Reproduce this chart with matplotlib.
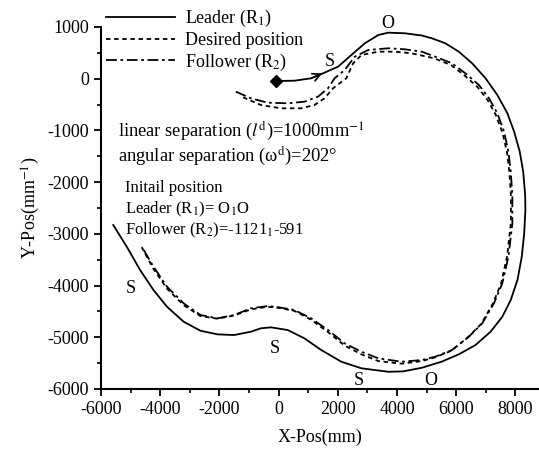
import matplotlib
matplotlib.use("Agg")
import matplotlib.pyplot as plt
from matplotlib.ticker import MultipleLocator

plt.rcParams['font.family'] = ['Liberation Serif', 'DejaVu Serif']
plt.rcParams['mathtext.fontset'] = 'stix'
plt.rcParams['axes.unicode_minus'] = False

# leader path (R1), starting at the diamond
leader_x = [-90, 534, 1100, 1500, 2010, 2460, 2915, 3370, 3710, 4270, 4840, 5180, 5634, 6090,
            6541, 6994, 7392, 7732, 7960, 8150, 8266, 8333, 8340, 8300, 8218, 8072, 7845, 7560,
            7164, 6654, 6090, 5520, 4840, 4200, 3710, 2800, 2122, 1442, 874, 309, -258, -600,
            -938, -1506, -2070, -2638, -3206, -3770, -4226, -4678, -5130, -5586]
leader_y = [-45, -39, 7, 104, 232, 458, 684, 845, 890, 878, 835, 781, 685, 522,
            298, 8, -315, -669, -1025, -1412, -1798, -2250, -2540, -2990, -3443, -3893, -4280, -4603,
            -4893, -5150, -5330, -5470, -5590, -5660, -5667, -5600, -5473, -5247, -5021, -4860, -4808, -4827,
            -4893, -4957, -4943, -4874, -4700, -4410, -4087, -3700, -3249, -2830]

# desired position (dotted)
desired_x = [-1200, -598, 82, 762, 1214, 1554, 1840, 2290, 2520, 2800, 3370, 3935, 4500, 5260,
             5830, 6270, 6720, 7060, 7340, 7570, 7720, 7800, 7850, 7850, 7720, 7520, 7240,
             6850, 6400, 5840, 5280, 4840, 4160, 3370, 2800, 2234, 1670, 1100, 534, 0, -371,
             -938, -1506, -2070, -2638, -3206, -3770, -4226, -4622]
desired_y = [-360, -509, -573, -573, -509, -379, -186, 8, 298, 458, 522, 522, 491, 394,
             262, 70, -160, -410, -700, -1050, -1430, -1810, -2250, -2797, -3440, -3960, -4350,
             -4740, -5000, -5260, -5390, -5460, -5510, -5460, -5330, -5160, -4900, -4660, -4490, -4430, -4410,
             -4460, -4580, -4640, -4590, -4380, -4060, -3680, -3260]

# follower path (R2), dash-dot
follower_x = [-1445, -938, -371, 309, 874, 1330, 1670, 1894, 2234, 2574, 3030, 3710, 4270, 4840,
              5294, 5860, 6310, 6770, 7110, 7392, 7620, 7766, 7845, 7900, 7900, 7766, 7560, 7277,
              6880, 6427, 5860, 5294, 4840, 4160, 3370, 2800, 2234, 1670, 1100, 534, 0, -371,
              -938, -1506, -2070, -2638, -3206, -3770, -4226, -4622]
follower_y = [-251, -379, -464, -476, -445, -348, -186, 8, 168, 425, 555, 588, 568, 522,
              425, 298, 104, -122, -379, -669, -1025, -1412, -1798, -2250, -2797, -3443, -3957, -4345,
              -4732, -4990, -5247, -5376, -5440, -5473, -5408, -5280, -5118, -4860, -4634, -4473, -4420, -4396,
              -4441, -4570, -4634, -4570, -4345, -4023, -3636, -3249]

s_labels = ['S', 'O', 'S', 'S', 'S', 'O']
s_x = [1725, 3680, -4985, -122, 2700, 5150]
s_y = [323, 1058, -4048, -5215, -5834, -5834]

fig = plt.figure(figsize=(5.39, 4.51), dpi=100)
ax = fig.add_axes([0.1874, 0.1375, 0.8126, 0.8027])

l1, = ax.plot(leader_x, leader_y, color='black', lw=1.3, label='Leader (R$_1$)')
l2, = ax.plot(desired_x, desired_y, color='black', lw=1.3, dashes=(2.5, 2), label='Desired position')
l3, = ax.plot(follower_x, follower_y, color='black', lw=1.3, dashes=(6, 2, 1.5, 2), label='Follower (R$_2$)')
ax.plot(leader_x[0], leader_y[0], marker='D', color='black', ms=6)
ax.annotate('', xy=(leader_x[3] + 60, leader_y[3] + 20), xytext=(leader_x[2], leader_y[2]),
            arrowprops=dict(arrowstyle='->', lw=1.2, color='black', mutation_scale=14))

for lab, x, y in zip(s_labels, s_x, s_y):
    ax.text(x, y, lab, ha='center', va='center', fontsize=13)

ax.text(0.039, 0.713, r'linear separation ($l^{\rm d}$)=1000mm$^{-1}$', transform=ax.transAxes,
        fontsize=13.3, va='center')
ax.text(0.039, 0.646, r'angular separation (ω$^{\rm d}$)=202°', transform=ax.transAxes,
        fontsize=13.3, va='center')
ax.text(0.055, 0.555, 'Initail position', transform=ax.transAxes, fontsize=12, va='center')
ax.text(0.055, 0.497, r'Leader (R$_1$)= O$_1$O', transform=ax.transAxes, fontsize=12, va='center')
ax.text(0.055, 0.439, r'Follower (R$_2$)=-1121$_1$-591', transform=ax.transAxes, fontsize=12, va='center')

ax.set_xlim(-6000, 8800)
ax.set_ylim(-6000, 1000)
ax.xaxis.set_major_locator(MultipleLocator(2000))
ax.xaxis.set_minor_locator(MultipleLocator(1000))
ax.yaxis.set_major_locator(MultipleLocator(1000))
ax.yaxis.set_minor_locator(MultipleLocator(500))
ax.tick_params(which='major', direction='out', length=5, width=1.3, labelsize=13)
ax.tick_params(which='minor', direction='out', length=3, width=1.2)
for side in ['top', 'right']:
    ax.spines[side].set_visible(False)
for side in ['left', 'bottom']:
    ax.spines[side].set_linewidth(1.5)

ax.set_xlabel('X-Pos(mm)', fontsize=13, labelpad=8)
ax.set_ylabel('Y-Pos(mm$^{-1}$)', fontsize=13, labelpad=4)

fig.legend(handles=[l1, l2, l3], loc='upper left', bbox_to_anchor=(0.174, 1.01), frameon=False,
           fontsize=13, handlelength=3.8, handletextpad=0.55, labelspacing=0.15, borderpad=0.2)

fig.savefig('out.png', dpi=100)
